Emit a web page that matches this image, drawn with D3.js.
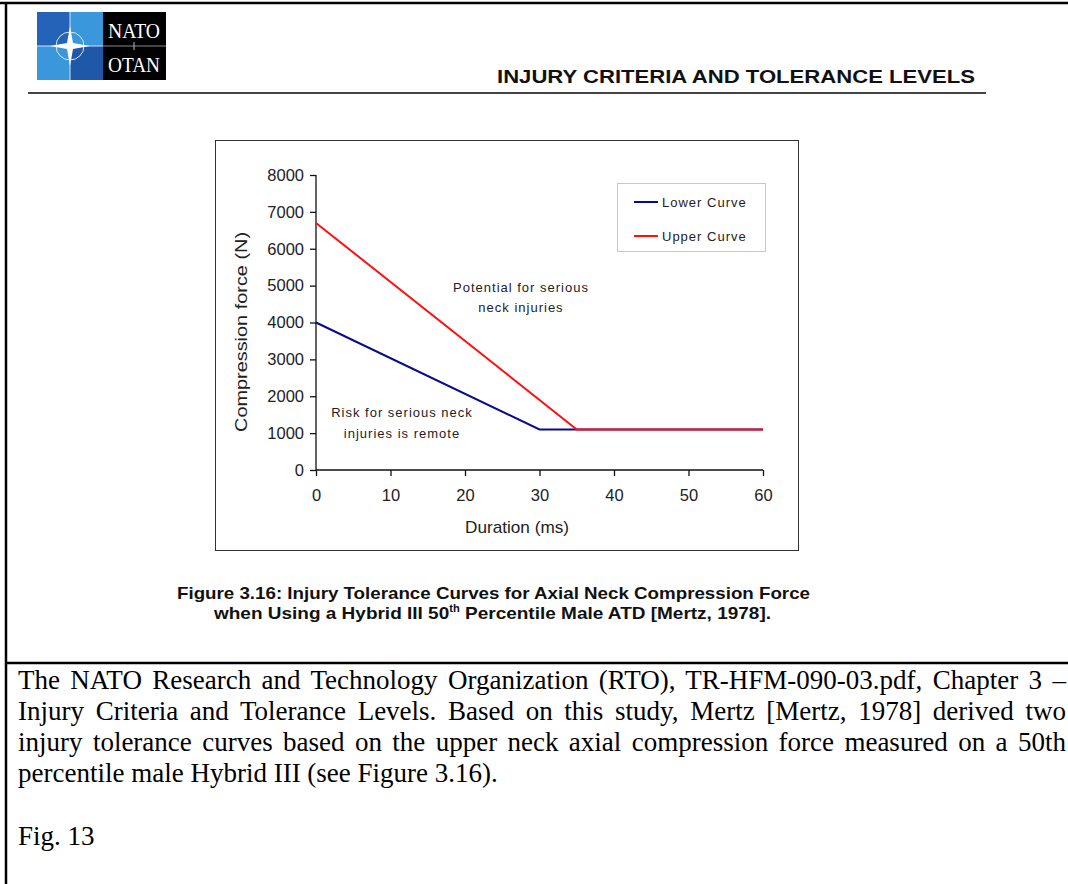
<!DOCTYPE html>
<html>
<head>
<meta charset="utf-8">
<script src="https://cdn.jsdelivr.net/npm/d3@7"></script>
<style>
  html, body { margin: 0; padding: 0; background: #fff; }
  svg { display: block; }
</style>
</head>
<body>
<script>
(function() {
  'use strict';

  // series data
  const lowerDuration = [0, 30, 60];
  const lowerForce = [4000, 1100, 1100];
  const upperDuration = [0, 35, 60];
  const upperForce = [6700, 1100, 1100];

  const xTicks = [0, 10, 20, 30, 40, 50, 60];
  const yTicks = [0, 1000, 2000, 3000, 4000, 5000, 6000, 7000, 8000];
  const seriesNames = ['Lower Curve', 'Upper Curve'];
  const seriesColors = ['#0a0a8c', '#ff1010'];

  const bodyLines = [
    'The NATO Research and Technology Organization (RTO), TR-HFM-090-03.pdf, Chapter 3 \u2013',
    'Injury Criteria and Tolerance Levels. Based on this study, Mertz [Mertz, 1978] derived two',
    'injury tolerance curves based on the upper neck axial compression force measured on a 50th',
    'percentile male Hybrid III (see Figure 3.16).'
  ];

  const w = 1068;
  const h = 884;

  const svg = d3.select('body')
    .append('svg')
    .attr('width', w)
    .attr('height', h);

  // page frame
  svg.append('line').attr('x1', 0).attr('x2', w).attr('y1', 3).attr('y2', 3)
    .attr('stroke', '#000').attr('stroke-width', 2.5);
  svg.append('line').attr('x1', 6).attr('x2', 6).attr('y1', 2).attr('y2', h)
    .attr('stroke', '#000').attr('stroke-width', 2.5);
  svg.append('line').attr('x1', 6).attr('x2', w).attr('y1', 663).attr('y2', 663)
    .attr('stroke', '#000').attr('stroke-width', 2.5);

  // NATO logo
  const logo = svg.append('g').attr('transform', 'translate(37,12)');
  const quads = [
    [0, 0, '#2463b8'], [33, 0, '#3a97dc'],
    [0, 34, '#3a97dc'], [33, 34, '#1f58a8']
  ];
  logo.selectAll('rect.q')
    .data(quads)
    .enter()
    .append('rect')
    .attr('class', 'q')
    .attr('x', (d) => d[0])
    .attr('y', (d) => d[1])
    .attr('width', 33)
    .attr('height', 34)
    .attr('fill', (d) => d[2]);
  logo.append('line').attr('x1', 33).attr('x2', 33).attr('y1', 0).attr('y2', 68)
    .attr('stroke', '#cfe3f5').attr('stroke-width', 1);
  logo.append('line').attr('x1', 0).attr('x2', 66).attr('y1', 34).attr('y2', 34)
    .attr('stroke', '#cfe3f5').attr('stroke-width', 1);
  logo.append('circle').attr('cx', 33).attr('cy', 34).attr('r', 14)
    .attr('fill', 'none').attr('stroke', '#dbe9f7').attr('stroke-width', 1);
  logo.append('path')
    .attr('d', 'M33,14 L36,31 L53,34 L36,37 L33,54 L30,37 L13,34 L30,31 Z')
    .attr('fill', '#ffffff');
  logo.append('rect').attr('x', 66).attr('y', 0).attr('width', 63).attr('height', 68)
    .attr('fill', '#000');
  logo.append('line').attr('x1', 66).attr('x2', 129).attr('y1', 34).attr('y2', 34)
    .attr('stroke', '#888').attr('stroke-width', 1);
  logo.append('line').attr('x1', 97).attr('x2', 97).attr('y1', 30).attr('y2', 38)
    .attr('stroke', '#bbb').attr('stroke-width', 1);
  ['NATO', 'OTAN'].forEach((t, i) => {
    logo.append('text').attr('x', 97).attr('y', 26 + i * 34)
      .attr('text-anchor', 'middle')
      .attr('textLength', 52)
      .attr('lengthAdjust', 'spacingAndGlyphs')
      .style('font-family', '"Liberation Serif", "Times New Roman", serif')
      .style('font-size', '20px')
      .attr('fill', '#fff')
      .text(t);
  });

  // running header
  svg.append('text')
    .attr('x', 497)
    .attr('y', 83)
    .attr('textLength', 478)
    .attr('lengthAdjust', 'spacingAndGlyphs')
    .style('font-family', '"Liberation Sans", Arial, sans-serif')
    .style('font-size', '18px')
    .style('font-weight', 'bold')
    .attr('fill', '#111')
    .text('INJURY CRITERIA AND TOLERANCE LEVELS');
  svg.append('line').attr('x1', 28).attr('x2', 986).attr('y1', 93).attr('y2', 93)
    .attr('stroke', '#444').attr('stroke-width', 2);

  // chart box
  svg.append('rect')
    .attr('x', 215.5).attr('y', 140.5)
    .attr('width', 583).attr('height', 410)
    .attr('fill', '#fff')
    .attr('stroke', '#333')
    .attr('stroke-width', 1);

  const xScale = d3.scaleLinear().domain([0, 60]).range([316, 763]);
  const yScale = d3.scaleLinear().domain([0, 8000]).range([470, 175]);

  const tickFont = '"Liberation Sans", Arial, sans-serif';

  const xAxis = d3.axisBottom(xScale).tickValues(xTicks).tickSize(6).tickPadding(13)
    .tickFormat(d3.format('d'));
  const gx = svg.append('g')
    .attr('transform', 'translate(0,470)')
    .call(xAxis);
  const yAxis = d3.axisLeft(yScale).tickValues(yTicks).tickSize(6).tickPadding(6)
    .tickFormat(d3.format('d'));
  const gy = svg.append('g')
    .attr('transform', 'translate(316,0)')
    .call(yAxis);
  [gx, gy].forEach((g) => {
    g.select('.domain').attr('stroke', '#111').attr('stroke-width', 1.3);
    g.selectAll('.tick line').attr('stroke', '#111').attr('stroke-width', 1.3);
    g.selectAll('.tick text')
      .style('font-family', tickFont)
      .style('font-size', '16.5px')
      .attr('fill', '#222');
  });
  gx.select('.domain').attr('d', 'M316,0H763');
  gy.select('.domain').attr('d', 'M0,175V470');

  // axis titles
  svg.append('text')
    .attr('transform', 'translate(247,332) rotate(-90)')
    .attr('text-anchor', 'middle')
    .attr('textLength', 200)
    .attr('lengthAdjust', 'spacingAndGlyphs')
    .style('font-family', tickFont)
    .style('font-size', '17px')
    .attr('fill', '#222')
    .text('Compression force (N)');
  svg.append('text')
    .attr('x', 517)
    .attr('y', 533)
    .attr('text-anchor', 'middle')
    .attr('textLength', 104)
    .attr('lengthAdjust', 'spacingAndGlyphs')
    .style('font-family', tickFont)
    .style('font-size', '17px')
    .attr('fill', '#222')
    .text('Duration (ms)');

  // curves
  const series = [
    lowerDuration.map((d, i) => [d, lowerForce[i]]),
    upperDuration.map((d, i) => [d, upperForce[i]])
  ];
  const line = d3.line()
    .x((d) => xScale(d[0]))
    .y((d) => yScale(d[1]));
  svg.selectAll('path.curve')
    .data(series)
    .enter()
    .append('path')
    .attr('class', 'curve')
    .attr('d', line)
    .attr('fill', 'none')
    .attr('stroke', (d, i) => seriesColors[i])
    .attr('stroke-width', 2);

  // region notes
  const noteStyle = (sel) => sel
    .attr('text-anchor', 'middle')
    .style('font-family', tickFont)
    .style('font-size', '13px')
    .style('letter-spacing', '1px')
    .attr('fill', '#222');
  svg.append('text').attr('x', 521).attr('y', 292).call(noteStyle).text('Potential for serious');
  svg.append('text').attr('x', 521).attr('y', 312).call(noteStyle).text('neck injuries');
  svg.append('text').attr('x', 402).attr('y', 417).call(noteStyle).text('Risk for serious neck');
  svg.append('text').attr('x', 402).attr('y', 438).call(noteStyle).text('injuries is remote');

  // legend
  svg.append('rect')
    .attr('x', 617.5).attr('y', 183.5)
    .attr('width', 148).attr('height', 68)
    .attr('fill', '#fff')
    .attr('stroke', '#c8c8c8');
  const legend = svg.selectAll('g.legend')
    .data(seriesNames)
    .enter()
    .append('g')
    .attr('class', 'legend')
    .attr('transform', (d, i) => 'translate(634,' + (202 + i * 34) + ')');
  legend.append('line')
    .attr('x1', 0).attr('x2', 24)
    .attr('stroke', (d, i) => seriesColors[i])
    .attr('stroke-width', 2);
  legend.append('text')
    .attr('x', 28)
    .attr('y', 4.5)
    .style('font-family', tickFont)
    .style('font-size', '13px')
    .style('letter-spacing', '1px')
    .attr('fill', '#222')
    .text((d) => d);

  // figure caption
  const capFont = '"Liberation Sans Narrow", "Arial Narrow", "Liberation Sans", Arial, sans-serif';
  svg.append('text')
    .attr('x', 177).attr('y', 599)
    .attr('textLength', 633)
    .attr('lengthAdjust', 'spacingAndGlyphs')
    .style('font-family', capFont)
    .style('font-size', '17px')
    .style('font-weight', 'bold')
    .attr('fill', '#111')
    .text('Figure 3.16: Injury Tolerance Curves for Axial Neck Compression Force');
  const cap2 = svg.append('text')
    .attr('x', 214).attr('y', 619)
    .attr('textLength', 557)
    .attr('lengthAdjust', 'spacingAndGlyphs')
    .style('font-family', capFont)
    .style('font-size', '17px')
    .style('font-weight', 'bold')
    .attr('fill', '#111');
  cap2.append('tspan').text('when Using a Hybrid III 50');
  cap2.append('tspan').attr('dy', -7).style('font-size', '10px').text('th');
  cap2.append('tspan').attr('dy', 7).text(' Percentile Male ATD [Mertz, 1978].');

  // body text: lines 1-3 justified with word spacing, last line ragged
  const bodyFont = '"Liberation Serif", "Times New Roman", serif';
  const measure = 1048;
  const bodyText = svg.selectAll('text.body')
    .data(bodyLines)
    .enter()
    .append('text')
    .attr('class', 'body')
    .attr('x', 18)
    .attr('y', (d, i) => 689 + i * 31)
    .style('font-family', bodyFont)
    .style('font-size', '27px')
    .attr('fill', '#000')
    .text((d) => d);
  bodyText.each(function(d, i) {
    if (i === bodyLines.length - 1) return;
    const natural = this.getComputedTextLength();
    const gaps = d.split(' ').length - 1;
    d3.select(this).style('word-spacing', ((measure - natural) / gaps) + 'px');
  });

  svg.append('text')
    .attr('x', 18)
    .attr('y', 845)
    .style('font-family', bodyFont)
    .style('font-size', '27px')
    .attr('fill', '#000')
    .text('Fig. 13');
}());
</script>
</body>
</html>
